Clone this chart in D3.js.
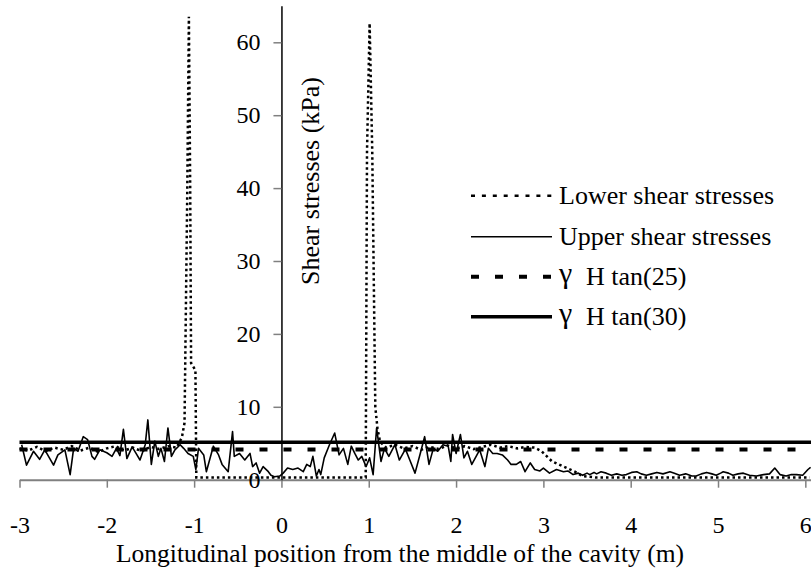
<!DOCTYPE html>
<html>
<head>
<meta charset="utf-8">
<script src="https://cdn.jsdelivr.net/npm/d3@7"></script>
<style>
  body { margin: 0; background: #fff; }
  svg { display: block; }
</style>
</head>
<body>
<svg id="chart" width="811" height="568"></svg>
<script>
// upper shear stresses (solid thin)
var upperX = [-2.975,-2.92,-2.84,-2.77,-2.71,-2.61,-2.56,-2.48,-2.42,-2.38,-2.33,-2.27,-2.22,-2.17,-2.14,-2.08,-2.0,-1.94,-1.89,-1.85,-1.81,-1.77,-1.71,-1.66,-1.62,-1.56,-1.53,-1.49,-1.45,-1.41,-1.38,-1.34,-1.30,-1.26,-1.22,-1.16,-1.12,-1.07,-1.01,-0.98,-0.95,-0.89,-0.86,-0.78,-0.72,-0.68,-0.61,-0.56,-0.54,-0.48,-0.42,-0.36,-0.33,-0.29,-0.25,-0.21,-0.15,-0.12,-0.08,-0.02,0.02,0.07,0.13,0.19,0.25,0.29,0.33,0.36,0.40,0.43,0.45,0.49,0.55,0.61,0.66,0.71,0.76,0.80,0.84,0.88,0.92,0.97,1.01,1.05,1.09,1.14,1.18,1.23,1.30,1.35,1.42,1.47,1.53,1.59,1.64,1.69,1.74,1.79,1.85,1.91,1.94,1.96,2.0,2.05,2.09,2.13,2.18,2.23,2.27,2.33,2.37,2.42,2.47,2.53,2.59,2.63,2.69,2.74,2.79,2.85,2.90,2.96,3.0,3.07,3.15,3.23,3.28,3.34,3.40,3.45,3.50,3.53,3.58,3.61,3.66,3.72,3.78,3.84,3.90,3.95,4.01,4.07,4.12,4.18,4.24,4.30,4.37,4.45,4.50,4.56,4.63,4.70,4.75,4.81,4.87,4.93,4.98,5.03,5.06,5.12,5.17,5.23,5.29,5.36,5.44,5.52,5.59,5.65,5.71,5.78,5.84,5.90,5.97,6.03,6.06];
var upperY = [4.8,2.0,3.9,2.8,4.1,2.0,3.4,4.1,0.7,4.3,3.9,5.9,5.5,3.2,2.8,4.1,3.7,3.2,4.3,3.3,6.9,2.9,4.5,3.5,2.7,4.8,8.2,2.1,5.3,3.2,4.3,2.5,7.1,3.2,4.1,4.8,4.3,3.6,3.2,1.4,4.3,3.4,1.1,4.6,3.4,2.1,1.1,6.6,3.2,3.6,2.7,3.6,1.8,2.3,0.9,1.8,1.1,0.6,0.4,0.5,0.9,1.6,1.4,1.6,1.1,2.1,1.8,3.2,0.5,1.4,0.7,3.0,4.8,6.4,3.4,4.3,2.1,4.6,3.6,2.7,3.2,1.8,3.0,0.7,7.1,2.5,4.3,3.2,4.8,2.7,4.2,2.7,0.9,3.6,5.9,2.1,4.3,3.9,4.8,4.6,2.5,6.2,3.6,6.2,3.0,3.9,2.1,3.2,4.1,1.8,4.3,3.6,3.6,3.4,2.7,2.1,2.1,2.5,1.1,2.3,1.4,1.2,1.6,0.9,1.4,1.1,1.2,0.7,0.9,0.6,0.9,0.7,1.0,0.8,1.1,0.9,0.6,0.8,0.6,0.7,1.0,1.1,0.8,0.6,0.8,1.0,0.8,1.1,0.9,0.6,0.8,0.5,0.5,0.8,1.0,0.8,0.6,0.9,1.1,0.9,0.6,0.8,0.9,0.6,0.5,0.7,0.8,1.6,0.7,0.5,0.7,0.7,0.6,1.4,1.7];

// lower shear stresses (dotted)
var lowerX = [-3.0,-2.9,-2.8,-2.7,-2.6,-2.5,-2.4,-2.3,-2.2,-2.1,-2.0,-1.9,-1.8,-1.7,-1.6,-1.5,-1.4,-1.3,-1.2,-1.14,-1.11,-1.08,-1.06,-1.045,-1.035,-0.985,-0.975,0.965,0.98,1.01,1.04,1.075,1.1,1.13,1.2,1.3,1.4,1.5,1.6,1.7,1.8,1.9,2.0,2.1,2.2,2.3,2.4,2.5,2.6,2.7,2.8,2.9,2.98,3.1,3.23,3.36,3.45,3.6,6.05];
var lowerY = [4.3,4.0,4.5,3.9,4.4,4.1,4.6,4.0,4.4,3.8,4.3,4.6,4.0,4.4,3.9,4.5,4.2,4.6,4.4,5.8,7.8,38,63.5,40,16,15,0.3,0.3,45,62.6,45,10,7,5.2,4.4,4.8,4.3,4.6,4.1,4.5,4.2,4.7,4.3,4.6,4.2,4.5,4.8,4.4,4.6,4.3,4.5,4.4,3.9,2.5,1.8,1.1,0.5,0.3,0.3];

var tan25 = 4.15;
var tan30 = 5.15;

var xTicks = [-3,-2,-1,0,1,2,3,4,5,6];
var yTicks = [0,10,20,30,40,50,60];

var legendNames = ["Lower shear stresses", "Upper shear stresses", "H tan(25)", "H tan(30)"];

var FONT = '"Liberation Serif", Tinos, "Times New Roman", Times, serif';

var svg = d3.select("#chart").style("font-family", FONT);

var x = d3.scaleLinear().domain([-3, 6.065]).range([19.5, 811]);
var y = d3.scaleLinear().domain([0, 65]).range([479.7, 5.85]);

// x axis (gray)
var xAxis = svg.append("g")
    .attr("transform", "translate(0," + y(0) + ")")
    .call(d3.axisBottom(x).tickValues(xTicks).tickSize(8).tickSizeOuter(0).tickPadding(28)
        .tickFormat(function(d){ return String(d); }));
xAxis.attr("font-family", null);
xAxis.select(".domain").attr("stroke", "#808080").attr("stroke-width", 2);
xAxis.selectAll(".tick line").attr("stroke", "#808080").attr("stroke-width", 1.5);
xAxis.selectAll("text").attr("font-size", 24).style("font-family", FONT).attr("fill", "#000");

// y axis
var yAxis = svg.append("g")
    .attr("transform", "translate(" + x(0) + ",0)")
    .call(d3.axisLeft(y).tickValues(yTicks).tickSize(8).tickSizeOuter(0).tickPadding(13)
        .tickFormat(function(d){ return String(d); }));
yAxis.attr("font-family", null);
yAxis.select(".domain").attr("stroke", "#000").attr("stroke-width", 1.5);
yAxis.selectAll(".tick line").attr("stroke", "#808080").attr("stroke-width", 1.5);
yAxis.selectAll("text").attr("font-size", 24).style("font-family", FONT).attr("fill", "#000");

// horizontal reference lines
svg.append("line")
    .attr("x1", x(-3)).attr("x2", x(6.065))
    .attr("y1", y(tan25)).attr("y2", y(tan25))
    .attr("stroke", "#000").attr("stroke-width", 4)
    .attr("stroke-dasharray", "8,16");

svg.append("line")
    .attr("x1", x(-3)).attr("x2", x(6.065))
    .attr("y1", y(tan30)).attr("y2", y(tan30))
    .attr("stroke", "#000").attr("stroke-width", 3.5);

var line = d3.line()
    .x(function(d){ return x(d[0]); })
    .y(function(d){ return y(d[1]); });

var lowerData = lowerX.map(function(v, i){ return [v, lowerY[i]]; });
var upperData = upperX.map(function(v, i){ return [v, upperY[i]]; });

svg.append("path")
    .datum(lowerData)
    .attr("d", line)
    .attr("fill", "none")
    .attr("stroke", "#000")
    .attr("stroke-width", 2.5)
    .attr("stroke-dasharray", "2.5,3");

svg.append("path")
    .datum(upperData)
    .attr("d", line)
    .attr("fill", "none")
    .attr("stroke", "#000")
    .attr("stroke-width", 1.6)
    .attr("stroke-linejoin", "round");

// axis titles
svg.append("text")
    .attr("transform", "translate(319,181) rotate(-90)")
    .attr("text-anchor", "middle")
    .attr("font-size", 26)
    .style("font-family", FONT)
    .text("Shear stresses (kPa)");

svg.append("text")
    .attr("x", 400).attr("y", 562)
    .attr("text-anchor", "middle")
    .attr("font-size", 25.5)
    .style("font-family", FONT)
    .text("Longitudinal position from the middle of the cavity (m)");

// legend
var legY = [195.7, 236.7, 276.7, 316.7];
var legStyle = [
    {w: 2.5, dash: "4,6.9"},
    {w: 1.6, dash: null},
    {w: 4, dash: "8,16"},
    {w: 3.5, dash: null}
];

legendNames.forEach(function(name, i){
    var g = svg.append("g");
    g.append("line")
        .attr("x1", 471).attr("x2", 552)
        .attr("y1", legY[i]).attr("y2", legY[i])
        .attr("stroke", "#000")
        .attr("stroke-width", legStyle[i].w)
        .attr("stroke-dasharray", legStyle[i].dash);
    if (i < 2) {
        g.append("text").attr("x", 559).attr("y", legY[i] + 8)
            .attr("font-size", 26).style("font-family", FONT).text(name);
    } else {
        g.append("text").attr("x", 559).attr("y", legY[i] + 6)
            .attr("font-size", 30).style("font-family", FONT).text("γ");
        g.append("text").attr("x", 586).attr("y", legY[i] + 8)
            .attr("font-size", 26).style("font-family", FONT).text(name);
    }
});
</script>
</body>
</html>
